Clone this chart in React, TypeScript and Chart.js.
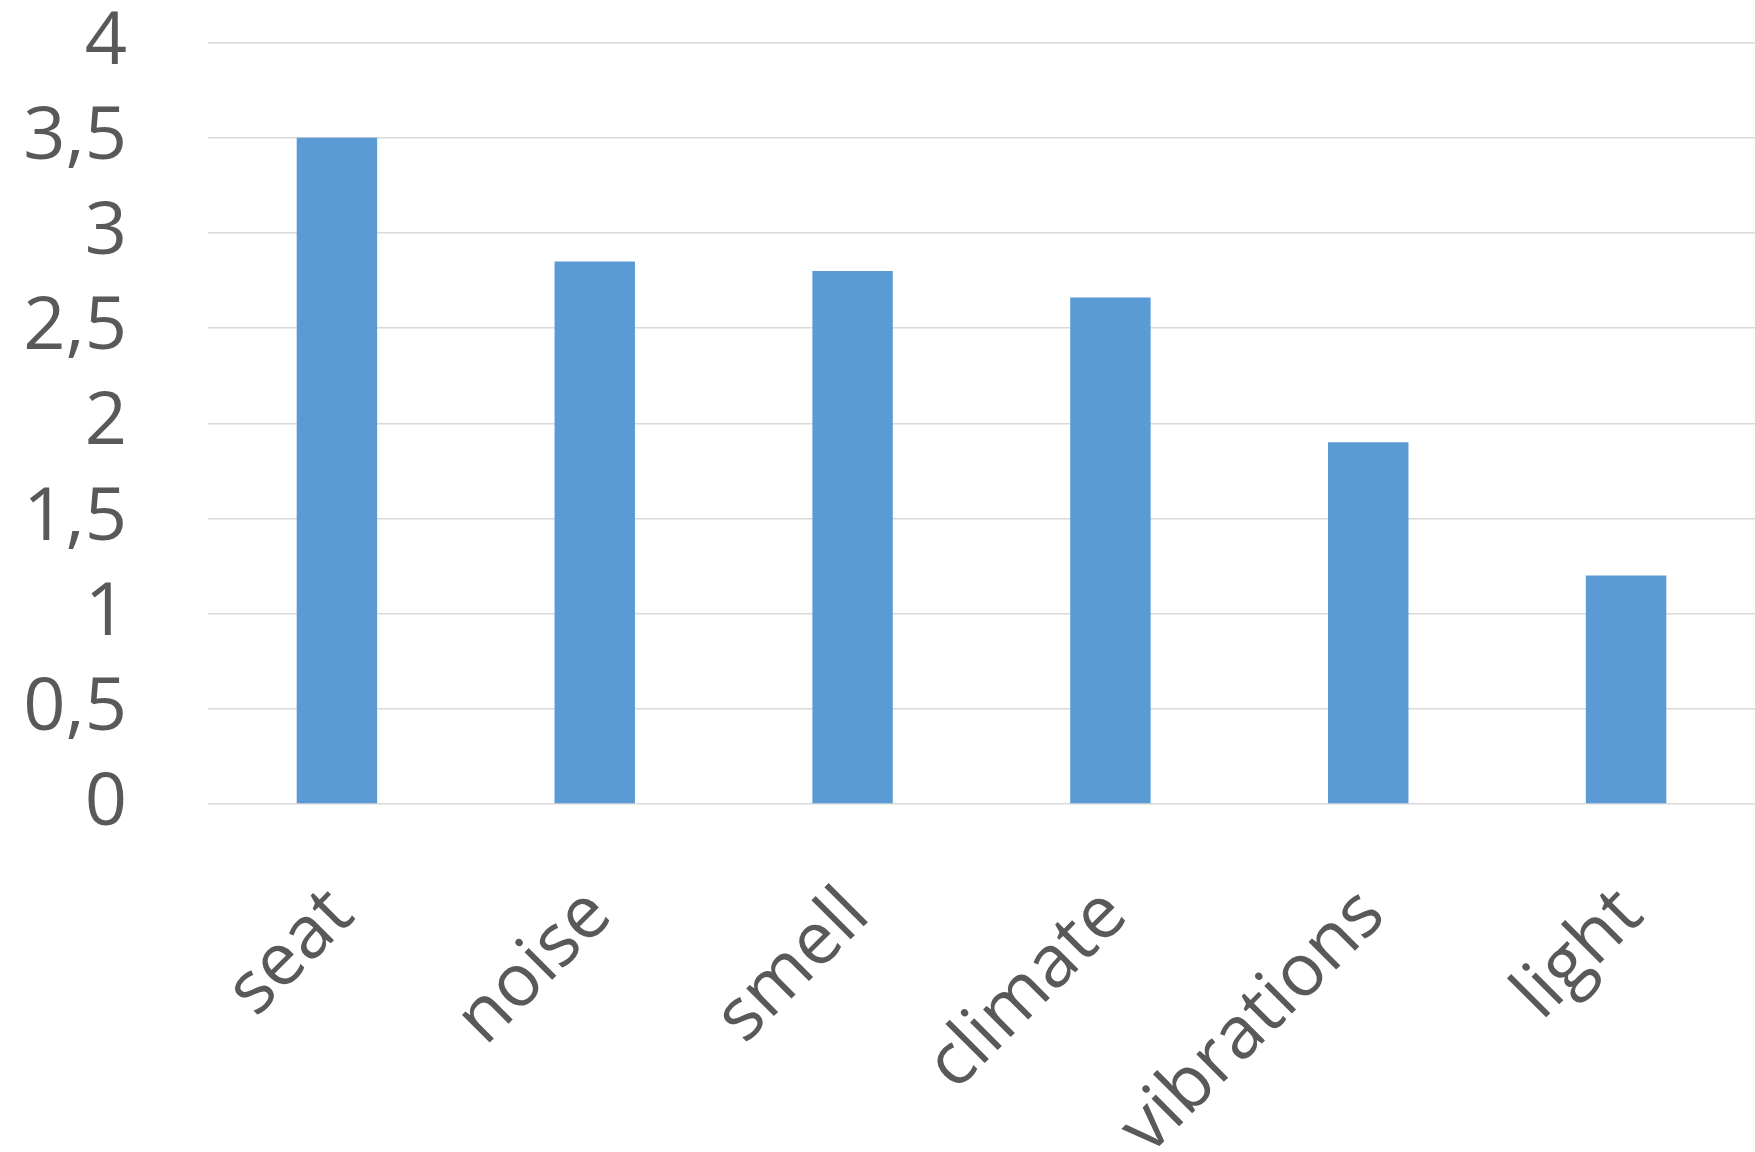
import React, { useEffect, useRef } from "react";
import { Chart, registerables } from "chart.js";

Chart.register(...registerables);

const categories = ["seat", "noise", "smell", "climate", "vibrations", "light"];
const values = [3.5, 2.85, 2.8, 2.66, 1.9, 1.2];
const yTickLabels = ["0", "0,5", "1", "1,5", "2", "2,5", "3", "3,5", "4"];

const W = 1755;
const H = 1152;

export default function App() {
  const ref = useRef<HTMLCanvasElement | null>(null);

  useEffect(() => {
    if (!ref.current) return;
    const chart = new Chart(ref.current, {
      type: "bar",
      data: {
        labels: categories,
        datasets: [
          {
            data: values,
            backgroundColor: "#5b9bd5",
            borderWidth: 0,
            categoryPercentage: 1,
            barPercentage: 0.312,
          },
        ],
      },
      options: {
        animation: false,
        responsive: false,
        layout: { padding: { top: 42.5, left: 0, right: 0, bottom: 0 } },
        plugins: { legend: { display: false }, tooltip: { enabled: false } },
        scales: {
          x: {
            grid: { display: false, drawTicks: false },
            border: { display: false },
            ticks: {
              color: "#595959",
              font: { family: "'Open Sans'", size: 73, lineHeight: 1.2 },
              minRotation: 45,
              maxRotation: 45,
              padding: 68,
              labelOffset: 5,
              autoSkip: false,
            },
            afterFit: (scale: any) => {
              scale.height = H - 804;
              scale.paddingLeft = 0;
              scale.paddingRight = 0;
            },
          },
          y: {
            min: 0,
            max: 4,
            grid: { color: "#d9d9d9", lineWidth: 1.5, drawTicks: false },
            border: { display: false },
            ticks: {
              stepSize: 0.5,
              color: "#595959",
              font: { family: "'Open Sans'", size: 74, lineHeight: 1.1 },
              padding: 81,
              callback: (_v: any, i: number) => yTickLabels[i],
            },
            afterFit: (scale: any) => {
              scale.width = 208;
              scale.paddingTop = 0;
              scale.paddingBottom = 0;
            },
          },
        },
      },
    });
    return () => chart.destroy();
  }, []);

  return (
    <div style={{ position: "absolute", left: 0, top: 0, width: W, height: H, background: "#fff" }}>
      <canvas ref={ref} width={W} height={H} style={{ display: "block" }} />
    </div>
  );
}
